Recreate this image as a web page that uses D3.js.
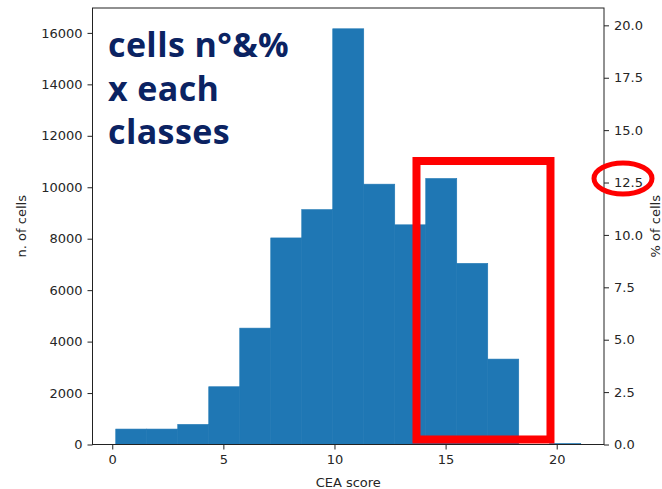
<!DOCTYPE html>
<html><head><meta charset="utf-8">
<script src="https://cdn.jsdelivr.net/npm/d3@7"></script>
<style>
html,body{margin:0;padding:0;background:#fff;}
svg{display:block;}
</style></head>
<body>
<svg id="c" width="662" height="489"></svg>
<script>
// ---- data ----
const binEdges = [0.157, 1.552, 2.947, 4.342, 5.737, 7.132, 8.527, 9.922, 11.317, 12.712, 14.107, 15.502, 16.897, 18.292, 19.687, 21.082];
const counts   = [600, 600, 780, 2245, 4524, 8030, 9130, 16160, 10120, 8540, 10340, 7040, 3320, 0, 40];
const xTicks = [0, 5, 10, 15, 20];
const yTicks = [0, 2000, 4000, 6000, 8000, 10000, 12000, 14000, 16000];
const pctTicks = [0, 2.5, 5, 7.5, 10, 12.5, 15, 17.5, 20];
const titleLines = ["cells n°&%", "x each", "classes"];
const highlightX = [13.69, 19.72];      // red box, data units
const highlightY = [195, 11020];
const circledPct = 12.5;

// ---- layout ----
const svg = d3.select("#c");
const L = 92.5, R = 604, T = 8, B = 444.5;
const lo = binEdges[0], hi = binEdges[binEdges.length-1], m = (hi-lo)*0.05;
const x = d3.scaleLinear().domain([lo-m, hi+m]).range([L, R]);
const yMax = d3.max(counts)*1.05;
const y = d3.scaleLinear().domain([0, yMax]).range([B, T]);
const total = d3.sum(counts);
const yp = d3.scaleLinear().domain([0, yMax/total*100]).range([B, T]);

const font = "'DejaVu Sans', sans-serif";

// bars
svg.append("g").selectAll("rect").data(counts).join("rect")
  .attr("x", (d,i)=>x(binEdges[i]))
  .attr("width", (d,i)=>x(binEdges[i+1])-x(binEdges[i]))
  .attr("y", d=>y(d))
  .attr("height", d=>B-y(d))
  .attr("fill", "#1f77b4")
  .attr("stroke", d=>d>0?"#1f77b4":"none").attr("stroke-width",0.6);

// axes
const axStyle = g => {
  g.selectAll("path").remove();
  g.selectAll("line").attr("stroke","#222").attr("stroke-width",1);
  g.selectAll("text").attr("fill","#262626").style("font-family",font).style("font-size","13px");
};
svg.append("g").attr("transform",`translate(0,${B})`)
  .call(d3.axisBottom(x).tickValues(xTicks).tickSize(5).tickPadding(5).tickFormat(d3.format("d")))
  .call(axStyle);
svg.append("g").attr("transform",`translate(${L},0)`)
  .call(d3.axisLeft(y).tickValues(yTicks).tickSize(5).tickPadding(5).tickFormat(d3.format("d")))
  .call(axStyle);
svg.append("g").attr("transform",`translate(${R},0)`)
  .call(d3.axisRight(yp).tickValues(pctTicks).tickSize(5).tickPadding(5).tickFormat(d3.format(".1f")))
  .call(axStyle);

// frame
svg.append("rect").attr("x",L).attr("y",T).attr("width",R-L).attr("height",B-T)
  .attr("fill","none").attr("stroke","#222").attr("stroke-width",1);

// axis labels
svg.append("text").attr("x",(L+R)/2).attr("y",487).attr("text-anchor","middle")
  .style("font-family",font).style("font-size","13px").attr("fill","#262626").text("CEA score");
svg.append("text").attr("transform",`translate(26,${(T+B)/2}) rotate(-90)`).attr("text-anchor","middle")
  .style("font-family",font).style("font-size","13px").attr("fill","#262626").text("n. of cells");
svg.append("text").attr("transform",`translate(660,${(T+B)/2}) rotate(-90)`).attr("text-anchor","middle")
  .style("font-family",font).style("font-size","13px").attr("fill","#262626").text("% of cells");

// title
svg.append("g").selectAll("text").data(titleLines).join("text")
  .attr("x",108).attr("y",(d,i)=>57+i*43.5)
  .style("font-family","'Open Sans', sans-serif").style("font-weight","700").style("font-size","34px")
  .style("letter-spacing","0.4px")
  .attr("fill","#0b2362").text(d=>d);

// red highlight box
svg.append("rect")
  .attr("x",x(highlightX[0])).attr("y",y(highlightY[1]))
  .attr("width",x(highlightX[1])-x(highlightX[0])).attr("height",y(highlightY[0])-y(highlightY[1]))
  .attr("fill","none").attr("stroke","#ff0000").attr("stroke-width",8);

// red ellipse around 12.5
svg.append("ellipse").attr("cx",R+19).attr("cy",yp(circledPct)-4).attr("rx",29).attr("ry",15.5)
  .attr("fill","none").attr("stroke","#ff0000").attr("stroke-width",5);
</script>
</body></html>
